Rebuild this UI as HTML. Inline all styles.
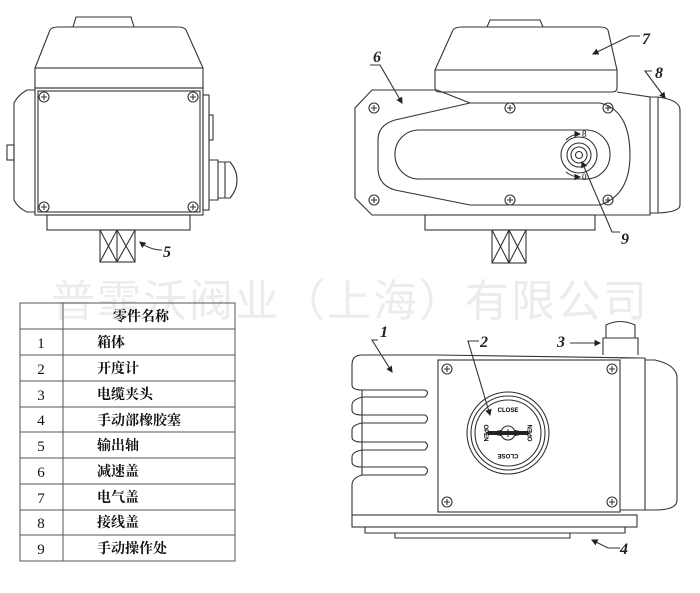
<!DOCTYPE html>
<html><head><meta charset="utf-8"><style>
html,body{margin:0;padding:0;background:#fff;}
svg{display:block}
.l{fill:none;stroke:#333;stroke-width:1.1}
.t{font-family:"Liberation Serif",serif;font-style:italic;font-weight:bold;font-size:16px;fill:#222}
.c{font-family:"Liberation Serif","Noto Serif CJK SC",serif;font-size:14px;fill:#111;font-weight:bold}
</style></head><body>
<svg width="700" height="593" viewBox="0 0 700 593" xmlns="http://www.w3.org/2000/svg">
<defs>
<g id="sc"><circle r="5" class="l"/><path d="M-3 0H3M0 -3V3" class="l"/></g>
<marker id="a" markerWidth="6" markerHeight="6" refX="5" refY="3" orient="auto"><path d="M0 0L6 3L0 6z" fill="#222"/></marker>
</defs>

<!-- watermark -->
<text x="350" y="316" text-anchor="middle" font-family="'Noto Sans CJK SC',sans-serif" font-size="44" fill="#ececec" letter-spacing="2">普霏沃阀业（上海）有限公司</text>

<!-- LEFT VIEW -->
<g>
<path class="l" d="M73 27 L76 17 H131 L134 27"/>
<path class="l" d="M35 68 L50 30 Q52 27 58 27 H178 Q184 27 186 30 L203 68"/>
<rect class="l" x="35" y="68" width="168" height="20"/>
<rect class="l" x="35" y="88" width="168" height="127"/>
<rect class="l" x="38" y="91" width="162" height="121"/>
<use href="#sc" x="44" y="97"/><use href="#sc" x="193" y="97"/><use href="#sc" x="44" y="207"/><use href="#sc" x="193" y="207"/>
<path class="l" d="M35 90 H27 Q18 95 14 103 V200 Q18 208 27 212 H35"/>
<rect class="l" x="7" y="145" width="7" height="15"/>
<rect class="l" x="203" y="95" width="6" height="115"/>
<rect class="l" x="209" y="115" width="4" height="25"/>
<path class="l" d="M209 160 H218 V200 H209 M218 162 H230 Q237 170 237 180 Q237 190 230 198 H218 M225 162 V198"/>
<rect class="l" x="47" y="215" width="143" height="15"/>
<rect class="l" x="100" y="230" width="35" height="32"/>
<path class="l" d="M117 230 V262 M100 230 L117 262 M117 230 L100 262 M117 230 L135 262 M135 230 L117 262"/>
<path class="l" d="M162 250 Q150 250 140 242" marker-end="url(#a)"/>
<text class="t" x="163" y="257">5</text>
</g>

<!-- TOP RIGHT VIEW -->
<g>
<path class="l" d="M487 27 L490 20 H540 L543 27"/>
<path class="l" d="M435 70 L453 30 Q455 27 462 27 H600 Q606 27 608 30 L617 70"/>
<path class="l" d="M435 70 H617 V88 Q617 92 612 92 H440 Q435 92 435 88 Z"/>
<path class="l" d="M437 90 H372 L355 108 V198 L372 215 H425 M595 215 H650 V97 L617 92"/>
<path class="l" d="M437 90 L470 103"/>
<path class="l" d="M470 103 H600 Q630 110 630 155 Q630 195 600 205 H470 L395 190 Q378 185 378 168 V140 Q378 125 395 120 Z"/>
<rect class="l" x="395" y="130" width="215" height="49" rx="24"/>
<use href="#sc" x="374" y="108"/><use href="#sc" x="510" y="108"/><use href="#sc" x="608" y="108"/>
<use href="#sc" x="374" y="200"/><use href="#sc" x="510" y="200"/><use href="#sc" x="608" y="200"/>
<circle class="l" cx="579" cy="155" r="18"/><circle class="l" cx="579" cy="155" r="12"/><circle class="l" cx="579" cy="155" r="8"/><circle class="l" cx="579" cy="155" r="3.5"/>
<path d="M566 140 Q572 134 580 134" class="l" marker-end="url(#a)"/><text x="582" y="137" font-size="9" font-family="Liberation Serif">8</text>
<path d="M566 172 Q572 177 580 177" class="l" marker-end="url(#a)"/><text x="582" y="180" font-size="9" font-family="Liberation Serif">0</text>
<path class="l" d="M650 97 H658 Q680 100 680 110 V205 Q680 212 658 213 H650 M658 97 V213"/>
<rect class="l" x="425" y="215" width="170" height="15"/>
<rect class="l" x="492" y="230" width="34" height="33"/>
<path class="l" d="M509 230 V263 M492 230 L509 263 M509 230 L492 263 M509 230 L526 263 M526 230 L509 263"/>
<path class="l" d="M370 65 H380 L402 103" marker-end="url(#a)"/><text class="t" x="373" y="62">6</text>
<path class="l" d="M640 36 H630 L593 54" marker-end="url(#a)"/><text class="t" x="642" y="44">7</text>
<path class="l" d="M652 71 H645 L665 98" marker-end="url(#a)"/><text class="t" x="655" y="78">8</text>
<path class="l" d="M620 232 H612 L582 162" marker-end="url(#a)"/><text class="t" x="621" y="244">9</text>
</g>

<!-- BOTTOM RIGHT VIEW -->
<g>
<path class="l" d="M362 355 H437 M437 355 L640 358 M362 355 Q352 355 352 365 V385 Q352 390 362 390 H425 Q430 392 425 397 H362 Q352 400 352 405 V410 Q352 415 362 415 H425 Q430 418 425 423 H362 Q352 425 352 430 V437 Q352 442 362 442 H425 Q430 445 425 450 H362 Q352 452 352 457 V462 Q352 467 362 467 H425 Q430 470 425 475 H362 Q352 478 352 485 V515"/>
<path class="l" d="M362 390 V475"/>
<rect class="l" x="438" y="360" width="182" height="152"/>
<use href="#sc" x="447" y="369"/><use href="#sc" x="612" y="369"/><use href="#sc" x="447" y="502"/><use href="#sc" x="612" y="502"/>
<path class="l" d="M620 358 H645 V510 H620 M645 360 H655 Q677 365 677 378 V500 Q677 510 655 510 H645"/>
<rect class="l" x="352" y="515" width="285" height="12"/>
<path class="l" d="M365 527 V533 H625 V527 M395 533 V538 H570 V533"/>
<path class="l" d="M603 355 V338 H638 V355 M606 338 V325 Q620 318 635 325 V338"/>
<circle class="l" cx="508" cy="433" r="41"/><circle class="l" cx="508" cy="433" r="37"/><circle class="l" cx="508" cy="433" r="33"/>
<circle class="l" cx="508" cy="433" r="7"/><path class="l" d="M504 433H512M508 429V437"/>
<path d="M486 433 L501 430 V436 Z M530 433 L515 430 V436 Z" fill="#222"/><rect x="488" y="431" width="40" height="4" fill="#222"/>
<text x="508" y="412" font-size="6" font-family="Liberation Sans" font-weight="bold" text-anchor="middle">CLOSE</text>
<text x="508" y="458" font-size="6" font-family="Liberation Sans" font-weight="bold" text-anchor="middle" transform="rotate(180 508 456)">CLOSE</text>
<text x="484" y="433" font-size="6" font-family="Liberation Sans" font-weight="bold" text-anchor="middle" transform="rotate(90 484 433)">OPEN</text>
<text x="532" y="433" font-size="6" font-family="Liberation Sans" font-weight="bold" text-anchor="middle" transform="rotate(-90 532 433)">OPEN</text>
<path class="l" d="M378 340 H372 L392 372" marker-end="url(#a)"/><text class="t" x="380" y="337">1</text>
<path class="l" d="M479 341 H468 L490 415" marker-end="url(#a)"/><text class="t" x="480" y="347">2</text>
<path class="l" d="M570 343 H600" marker-end="url(#a)"/><text class="t" x="557" y="347">3</text>
<path class="l" d="M620 548 H608 L592 540" marker-end="url(#a)"/><text class="t" x="620" y="554">4</text>
</g>

<!-- TABLE -->
<g>
<rect x="20" y="303" width="215" height="258" fill="none" stroke="#555" stroke-width="1"/>
<line x1="63" y1="303" x2="63" y2="561" stroke="#555"/>
<g stroke="#555">
<line x1="20" y1="329" x2="235" y2="329"/><line x1="20" y1="355" x2="235" y2="355"/><line x1="20" y1="381" x2="235" y2="381"/><line x1="20" y1="407" x2="235" y2="407"/><line x1="20" y1="432" x2="235" y2="432"/><line x1="20" y1="458" x2="235" y2="458"/><line x1="20" y1="484" x2="235" y2="484"/><line x1="20" y1="510" x2="235" y2="510"/><line x1="20" y1="535" x2="235" y2="535"/>
</g>
<text class="c" x="113" y="321" font-size="12">零件名称</text>
<g font-family="Liberation Serif" font-size="15" text-anchor="middle" fill="#111">
<text x="41" y="348">1</text><text x="41" y="374">2</text><text x="41" y="400">3</text><text x="41" y="425">4</text><text x="41" y="451">5</text><text x="41" y="477">6</text><text x="41" y="503">7</text><text x="41" y="528">8</text><text x="41" y="554">9</text>
</g>
<text class="c" x="97" y="347">箱体</text><text class="c" x="97" y="373">开度计</text><text class="c" x="97" y="399">电缆夹头</text><text class="c" x="97" y="425">手动部橡胶塞</text><text class="c" x="97" y="450">输出轴</text><text class="c" x="97" y="476">减速盖</text><text class="c" x="97" y="502">电气盖</text><text class="c" x="97" y="527">接线盖</text><text class="c" x="97" y="553">手动操作处</text>
</g>
</svg>
</body></html>
